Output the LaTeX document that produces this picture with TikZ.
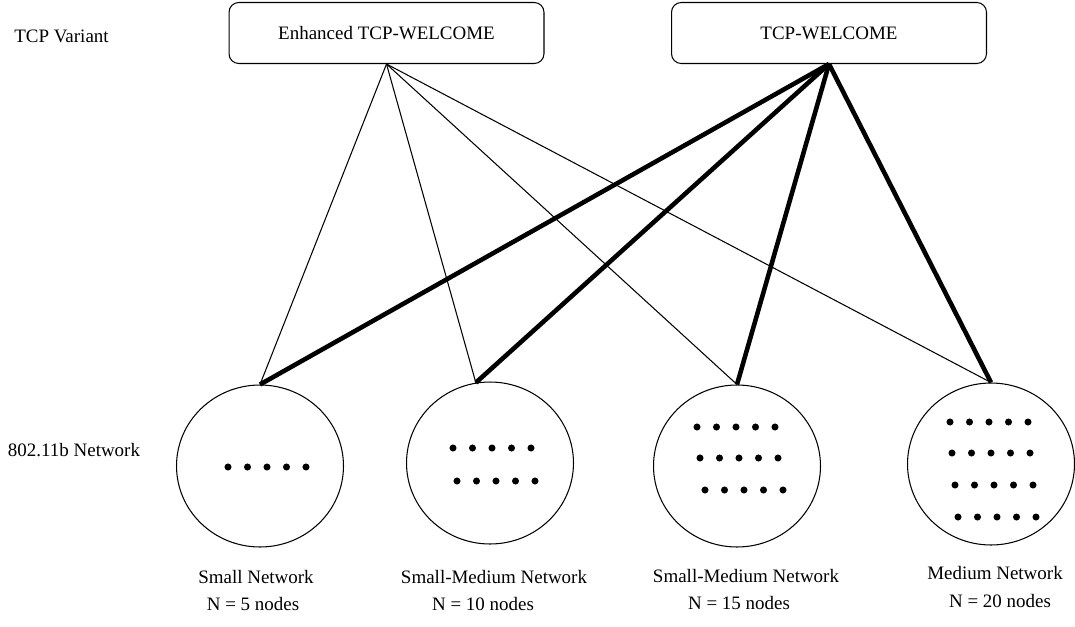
\documentclass[tikz,border=0pt]{standalone}
\usepackage{fontspec}
\setmainfont{Liberation Serif}
\usetikzlibrary{positioning}
\usetikzlibrary{shapes.geometric}
\tikzset{
	every node/.style = {font=\fontsize{10.8}{13}\selectfont},
	variant/.style = {draw, line width=0.6pt, rounded corners=5.5pt,
		minimum width=6.3cm, minimum height=1.22cm},
	network/.style = {draw, ellipse, line width=0.6pt,
		minimum width=3.34cm, minimum height=3.24cm},
	weak/.style = {line width=0.6pt},
	strong/.style = {line width=2.6pt}
}
\newcommand{\dotrow}[2]{%
	\foreach \k in {0,...,4} \fill (#1+19.5*\k,#2) circle (2pt);}

\begin{document}
\begin{tikzpicture}[x=0.02cm, y=-0.02cm]
		\useasboundingbox (0,0) rectangle (1075,626);
		% rows
		\node (variant) at (61.5,36) {TCP Variant};
		\node (wlan) at (74,450) {802.11b Network};
		% tcp variants
		\node[variant] (enh) at (386.5,33) {Enhanced TCP-WELCOME};
		\node[variant] (wel) at (829,33) {TCP-WELCOME};
		% networks
		\node[network] (c1) at (260,466) {};
		\node[network] (c2) at (490,463) {};
		\node[network] (c3) at (737,466) {};
		\node[network] (c4) at (991,464) {};
		% mobile nodes
		\dotrow{228}{467}
		\dotrow{453}{448} \dotrow{457}{481}
		\dotrow{697}{427} \dotrow{700}{458} \dotrow{705}{490}
		\dotrow{950}{422} \dotrow{952}{453} \dotrow{955}{485} \dotrow{958}{517}
		% links
		\foreach \t in {c1.north, c2.100, c3.north, c4.north} {
			\draw[weak] (enh.south) -- (\t);
			\draw[strong] (wel.south) -- (\t);
		}
		% captions
		\node (l1) at (256,577) {Small Network};
		\node (n1) at (253,604) {N = 5 nodes};
		\node (l2) at (494,577) {Small-Medium Network};
		\node (n2) at (483,604) {N = 10 nodes};
		\node (l3) at (746,576) {Small-Medium Network};
		\node (n3) at (739,603) {N = 15 nodes};
		\node (l4) at (995,573) {Medium Network};
		\node (n4) at (1000,601) {N = 20 nodes};
	\end{tikzpicture}
\end{document}
